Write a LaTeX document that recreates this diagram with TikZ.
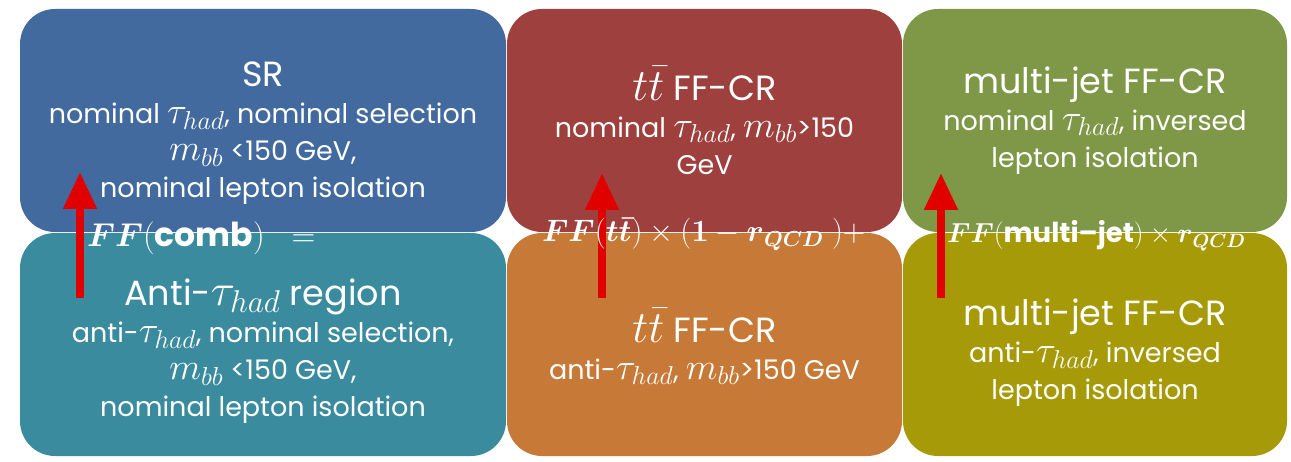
\RequirePackage{fix-cm}
\documentclass[tikz,border=0pt]{standalone}
\usepackage{amsmath}
\usepackage[no-math]{fontspec}
\setmainfont{Poppins}
\usepackage{xcolor}
\usetikzlibrary{arrows.meta,positioning}

\definecolor{srblue}{HTML}{426A9E}
\definecolor{antiteal}{HTML}{3B8B9E}
\definecolor{ttred}{HTML}{9E403D}
\definecolor{ttorange}{HTML}{C77938}
\definecolor{mjgreen}{HTML}{7E9847}
\definecolor{mjolive}{HTML}{A69A08}
\definecolor{arrred}{HTML}{E00000}

\newcommand{\titlesize}{\fontsize{35}{37}\selectfont}
\newcommand{\mth}[1]{{\fontsize{37}{37}\selectfont$#1$}}
\newcommand{\tmth}[1]{{\fontsize{45}{37}\selectfont$#1$}}

\begin{document}
\begin{tikzpicture}[
    x=1pt, y=-1pt,
    node distance=1pt and 1pt,
    box/.style={rounded corners=35pt, inner sep=0pt, outer sep=0pt, align=center,
      text=white, minimum height=223pt, font=\fontsize{27}{37}\selectfont},
    colA/.style={box, minimum width=486pt},
    colB/.style={box, minimum width=395pt},
    colC/.style={box, minimum width=384pt},
    arr/.style={-{Triangle[width=32pt,length=37pt]}, line width=8pt, arrred},
    formula/.style={anchor=base west, text=white, inner sep=0pt}
  ]
    \useasboundingbox (0,0) rectangle (1291,462);

    % top row
    \node[colA, fill=srblue, anchor=north west] (sr) at (20,9)
      {\rule{0pt}{50pt}{\titlesize SR}\\nominal \mth{\tau_{had}}, nominal selection\\\mth{m_{bb}} <150 GeV,\\nominal lepton isolation};
    \node[colB, fill=ttred, right=of sr] (ttnom)
      {{\titlesize \tmth{t\bar{t}} FF-CR}\\nominal \mth{\tau_{had}}, \mth{m_{bb}}>150\\GeV};
    \node[colC, fill=mjgreen, right=of ttnom] (mjnom)
      {{\titlesize multi-jet FF-CR}\\nominal \mth{\tau_{had}}, inversed\\lepton isolation};

    % bottom row
    \node[colA, fill=antiteal, below=of sr] (anti)
      {\rule{0pt}{40pt}{\titlesize Anti-\tmth{\tau_{had}} region}\\anti-\mth{\tau_{had}}, nominal selection,\\\mth{m_{bb}} <150 GeV,\\nominal lepton isolation};
    \node[colB, fill=ttorange, below=of ttnom] (ttanti)
      {\rule{0pt}{38pt}{\titlesize \tmth{t\bar{t}} FF-CR}\\anti-\mth{\tau_{had}}, \mth{m_{bb}}>150 GeV};
    \node[colC, fill=mjolive, below=of mjnom] (mjanti)
      {\rule{0pt}{43pt}{\titlesize multi-jet FF-CR}\\anti-\mth{\tau_{had}}, inversed\\lepton isolation};

    % arrows
    \coordinate (a1s) at (80,298);
    \coordinate (a1e) at (80,172);
    \coordinate (a2s) at (602,298);
    \coordinate (a2e) at (602,173);
    \coordinate (a3s) at (941,298);
    \coordinate (a3e) at (941,173);
    \draw[arr] (a1s) -- (a1e);
    \draw[arr] (a2s) -- (a2e);
    \draw[arr] (a3s) -- (a3e);

    % formulas
    \node[formula, font=\fontsize{33}{40}\selectfont] (fcomb) at (87,247)
      {$\boldsymbol{FF}(\text{\bfseries comb})\ \ =$};
    \node[formula, font=\fontsize{31}{34}\selectfont] (fttbar) at (542,242)
      {$\boldsymbol{FF}(\boldsymbol{t\bar{t}})\times(\mathbf{1}-\boldsymbol{r}_{\boldsymbol{QCD}}\ )+$};
    \node[formula, font=\fontsize{27.5}{34}\selectfont] (fmj) at (947,243)
      {$\boldsymbol{FF}(\text{\bfseries multi–jet})\times\boldsymbol{r}_{\boldsymbol{QCD}}$};
  \end{tikzpicture}
\end{document}
